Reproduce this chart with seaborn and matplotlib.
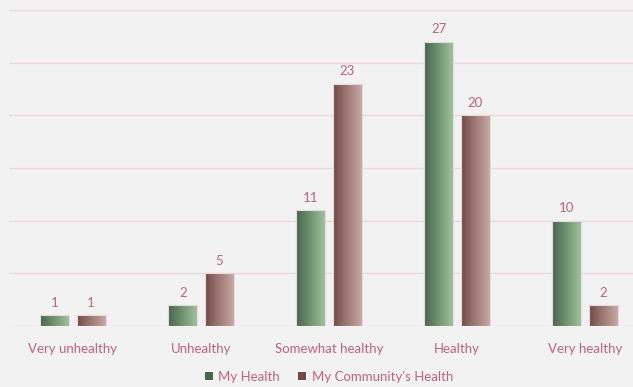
import numpy as np
import pandas as pd
import seaborn as sns
import matplotlib.pyplot as plt
from matplotlib.colors import LinearSegmentedColormap
from matplotlib.patches import Patch

categories = ["Very unhealthy", "Unhealthy", "Somewhat healthy", "Healthy", "Very healthy"]
my_health = [1, 2, 11, 27, 10]
community_health = [1, 5, 23, 20, 2]
series = ["My Health", "My Community's Health"]

df = pd.DataFrame({
    "cat": categories * 2,
    "val": my_health + community_health,
    "series": [series[0]] * 5 + [series[1]] * 5,
})

bg = "#f2f2f2"
txt = "#c0627a"
grads = {
    series[0]: ("#46674a", "#a2c49e"),
    series[1]: ("#734b47", "#ccaca8"),
}

sns.set_style("white")
plt.rcParams["font.family"] = ["Lato", "DejaVu Sans"]

fig = plt.figure(figsize=(6.33, 3.87), dpi=100, facecolor=bg)
ax = fig.add_axes([9 / 633, 61 / 387, 640 / 633, 316 / 387], facecolor=bg)

sns.barplot(data=df, x="cat", y="val", hue="series", order=categories,
            hue_order=series, width=0.565, gap=0.195, ax=ax,
            palette=[grads[s][0] for s in series], legend=False,
            edgecolor="#e6dada", linewidth=0.8, zorder=3)

for yv in range(0, 31, 5):
    ax.axhline(yv, color="#f0d6db", lw=1.0, zorder=1)

# gradient fill inside each bar
bars = [p for p in ax.patches if p.get_height() > 0]
for i, p in enumerate(bars):
    s = series[i // 5]
    cmap = LinearSegmentedColormap.from_list(s, grads[s])
    x0, w, h = p.get_x(), p.get_width(), p.get_height()
    grad = np.linspace(0, 1, 256).reshape(1, -1)
    im = ax.imshow(grad, cmap=cmap, extent=[x0, x0 + w, 0, h],
                   aspect="auto", zorder=2.5, interpolation="bicubic")
    im.set_clip_path(p)
    p.set_facecolor("none")
    ax.text(x0 + w / 2, h + 0.6, f"{h:g}", ha="center", va="bottom",
            color=txt, fontsize=9.5)

ax.set_ylim(0, 30)
ax.set_xlim(-0.5, 4.5)
ax.set_xlabel("")
ax.set_ylabel("")
ax.set_yticks([])
ax.tick_params(axis="x", length=0, pad=12, labelcolor=txt, labelsize=9.5)
sns.despine(ax=ax, left=True, bottom=True, top=True, right=True)

handles = [Patch(facecolor=grads[s][0], edgecolor="none") for s in series]
ax.legend(handles, series, loc="center", bbox_to_anchor=(0.5, -0.16),
          ncol=2, frameon=False, labelcolor=txt, fontsize=9.5,
          handlelength=0.6, handleheight=0.6, handletextpad=0.4,
          columnspacing=1.4)

fig.savefig("out.png", dpi=100, facecolor=bg)
